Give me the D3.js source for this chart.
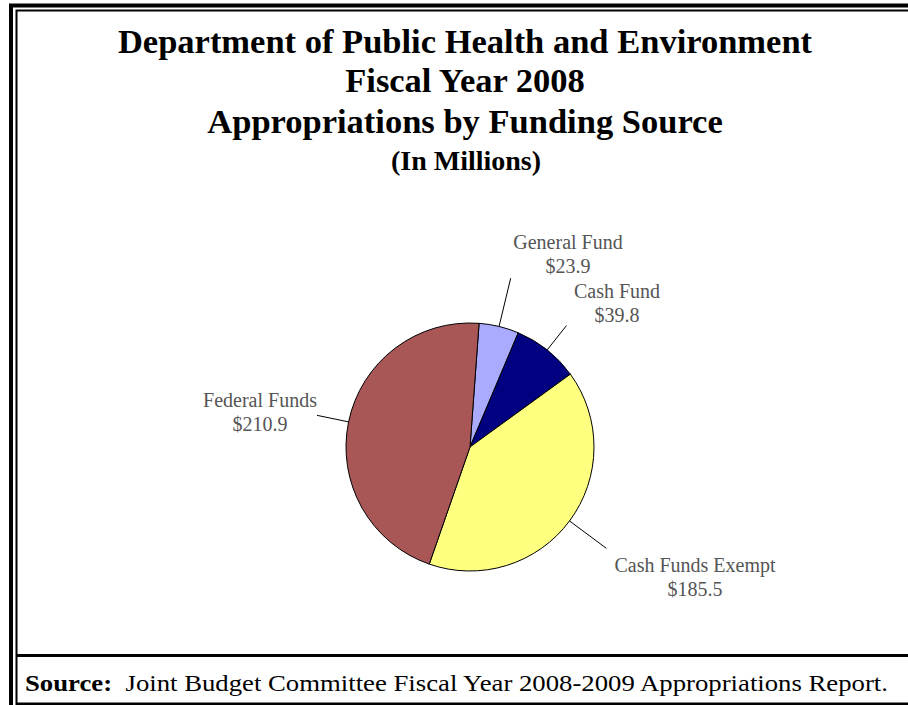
<!DOCTYPE html>
<html>
<head>
<meta charset="utf-8">
<script src="https://cdn.jsdelivr.net/npm/d3@7/dist/d3.min.js"></script>
<style>
  html, body { margin: 0; padding: 0; background: #fff; }
  svg { display: block; }
</style>
</head>
<body>
<svg id="chart" width="908" height="705"></svg>
<script>
// Funding sources, in millions of dollars, in clockwise order
const categories = ["General Fund", "Cash Fund", "Cash Funds Exempt", "Federal Funds"];
const values = [23.9, 39.8, 185.5, 210.9];
const valueLabels = ["$23.9", "$39.8", "$185.5", "$210.9"];
const colors = ["#AAAAFF", "#000080", "#FFFF80", "#A85656"];

const titleLines = [
  "Department of Public Health and Environment",
  "Fiscal Year 2008",
  "Appropriations by Funding Source"
];
const subtitle = "(In Millions)";

const svg = d3.select("#chart");
const W = 908, H = 705;
const serif = "'Liberation Serif', 'Times New Roman', Times, serif";

// ---- page frame: double rule on top and left, separator above the source line
const frame = svg.append("g").attr("fill", "none").attr("stroke", "#000");
frame.append("path").attr("stroke-width", 4).attr("d", `M11,${H} V5.5 H${W}`);
frame.append("path").attr("stroke-width", 2).attr("d", `M16.5,${H} V10.5 H${W}`);
frame.append("line").attr("stroke-width", 3)
  .attr("x1", 16).attr("x2", W).attr("y1", 655.5).attr("y2", 655.5);
frame.append("line").attr("stroke-width", 3)
  .attr("x1", 16).attr("x2", W).attr("y1", 704).attr("y2", 704);

// ---- titles
const titleY = [53, 92, 133];
svg.selectAll("text.title").data(titleLines).join("text")
  .attr("class", "title")
  .attr("x", 465).attr("y", (d, i) => titleY[i])
  .attr("text-anchor", "middle")
  .attr("font-family", serif).attr("font-weight", "bold")
  .attr("font-size", 34.5)
  .text(d => d);
svg.append("text")
  .attr("x", 466).attr("y", 170)
  .attr("text-anchor", "middle")
  .attr("font-family", serif).attr("font-weight", "bold")
  .attr("font-size", 28)
  .text(subtitle);

// ---- pie
const cx = 470, cy = 447, R = 124;
const startOffset = 4.2 * Math.PI / 180;
const pie = d3.pie().sort(null)
  .startAngle(startOffset).endAngle(startOffset + 2 * Math.PI)
  .value(d => d);
const arcs = pie(values);
const arc = d3.arc().innerRadius(0).outerRadius(R);

const g = svg.append("g").attr("transform", `translate(${cx},${cy})`);
g.selectAll("path.slice").data(arcs).join("path")
  .attr("class", "slice")
  .attr("d", arc)
  .attr("fill", (d, i) => colors[i])
  .attr("stroke", "#000").attr("stroke-width", 1);

// leader lines run radially from each slice's mid-angle out to its label
const leaderReach = [1.40, 1.25, 1.37, 1.26];
const labelAnchor = [[568, 249], [617, 298], [695, 572], [260, 407]];
arcs.forEach((a, i) => {
  const mid = (a.startAngle + a.endAngle) / 2;
  const p = r => [Math.sin(mid) * r, -Math.cos(mid) * r];
  const [x1, y1] = p(R), [x2, y2] = p(R * leaderReach[i]);
  g.append("line")
    .attr("x1", x1).attr("y1", y1).attr("x2", x2).attr("y2", y2)
    .attr("stroke", "#000").attr("stroke-width", 1);
  const t = svg.append("text")
    .attr("x", labelAnchor[i][0]).attr("y", labelAnchor[i][1])
    .attr("text-anchor", "middle")
    .attr("font-family", serif).attr("font-size", 20)
    .attr("fill", "#555");
  t.append("tspan").attr("x", labelAnchor[i][0]).text(categories[i]);
  t.append("tspan").attr("x", labelAnchor[i][0]).attr("dy", 24).text(valueLabels[i]);
});

// ---- source note
const src = svg.append("text")
  .attr("x", 25).attr("y", 691)
  .attr("font-family", serif).attr("font-size", 22.5)
  .attr("textLength", 863).attr("lengthAdjust", "spacingAndGlyphs");
src.append("tspan").attr("font-weight", "bold").text("Source:");
src.append("tspan").text("\u00a0 Joint Budget Committee Fiscal Year 2008-2009 Appropriations Report.");
</script>
</body>
</html>
